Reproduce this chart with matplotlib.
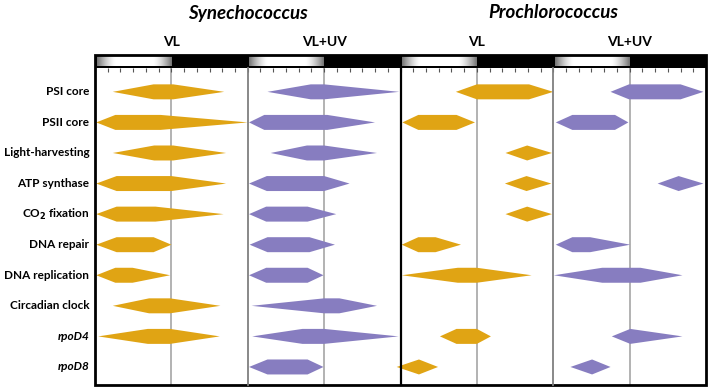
import numpy as np
import matplotlib.pyplot as plt
from matplotlib.patches import Polygon, Rectangle

plt.rcParams['font.family'] = ['Lato', 'DejaVu Sans']

# Row labels (top to bottom)
rows = ['PSI core', 'PSII core', 'Light-harvesting', 'ATP synthase',
        'CO$_\\mathbf{2}$ fixation', 'DNA repair', 'DNA replication',
        'Circadian clock', 'rpoD4', 'rpoD8']
italic_rows = ['rpoD4', 'rpoD8']

# Each shape: (start, plateau start, plateau end, end) in hours of the day; None = no shape
syn_vl = [
    (2.8, 9.2, 12.3, 20.3),
    (0.2, 3.2, 10.3, 24.0),
    (2.8, 9.3, 12.3, 20.6),
    (0.2, 3.4, 12.0, 20.6),
    (0.2, 3.4, 9.5, 20.2),
    (0.2, 3.4, 9.2, 12.0),
    (0.2, 3.2, 5.9, 11.8),
    (2.8, 8.5, 11.8, 19.7),
    (0.5, 8.3, 11.8, 19.6),
    None,
]
syn_uv = [
    (3.1, 9.9, 12.0, 23.8),
    (0.2, 2.6, 12.5, 20.0),
    (3.6, 9.3, 12.0, 20.3),
    (0.2, 3.0, 12.0, 16.0),
    (0.2, 2.9, 9.4, 13.9),
    (0.3, 3.1, 9.7, 13.7),
    (0.2, 2.9, 9.4, 11.9),
    (0.6, 12.0, 14.4, 20.3),
    (0.7, 8.6, 12.0, 23.7),
    (0.2, 3.1, 9.4, 11.9),
]
pro_vl = [
    (8.7, 12.0, 20.2, 24.0),
    (0.3, 2.8, 8.8, 11.7),
    (16.5, 19.9, 19.9, 23.8),
    (16.4, 19.8, 19.8, 23.7),
    (16.5, 19.9, 19.9, 23.8),
    (0.2, 2.8, 5.5, 9.5),
    (0.2, 9.0, 12.0, 20.6),
    None,
    (6.2, 8.8, 12.0, 14.2),
    (-0.6, 2.9, 2.9, 5.9),
]
pro_uv = [
    (9.0, 11.9, 20.0, 23.6),
    (0.4, 3.0, 9.7, 11.8),
    None,
    (16.4, 19.7, 19.7, 23.6),
    None,
    (0.4, 3.0, 5.8, 12.1),
    (0.1, 7.7, 13.7, 20.3),
    None,
    (9.2, 12.1, 12.1, 20.3),
    (2.7, 6.1, 6.1, 9.0),
]

panels = [syn_vl, syn_uv, pro_vl, pro_uv]
panel_titles = ['VL', 'VL+UV', 'VL', 'VL+UV']
species = ['Synechococcus', 'Prochlorococcus']
orange = '#E0A414'
purple = '#877DC0'
colors = [orange, purple, orange, purple]

W, H = 709, 389
fig = plt.figure(figsize=(W / 100, H / 100), dpi=100)

x0_px, x1_px = 95, 706
top_px, bar_bot_px, bot_px = 55, 68, 385
pw = (x1_px - x0_px) / 4
half_h = 0.245

# gradient for the light period
g = np.linspace(0, 1, 200)
grad = 1 - 0.55 * (np.clip(1 - g / 0.25, 0, 1) ** 1.5 + np.clip((g - 0.75) / 0.25, 0, 1) ** 1.5)

axes = []
for i, data in enumerate(panels):
    left = (x0_px + i * pw) / W
    ax = fig.add_axes([left, 1 - bot_px / H, pw / W, (bot_px - bar_bot_px) / H])
    ax.set_xlim(0, 24)
    ax.set_ylim(len(rows) - 1 + 0.59, -0.78)
    for j, s in enumerate(data):
        if s is None:
            continue
        a, b, c, d = s
        poly = Polygon([(a, j), (b, j - half_h), (c, j - half_h), (d, j),
                        (c, j + half_h), (b, j + half_h)],
                       closed=True, facecolor=colors[i], edgecolor='none',
                       zorder=3, clip_on=False)
        ax.add_patch(poly)
    ax.axvline(12, color='#a6a6a6', lw=1.2, zorder=1)
    ax.set_xticks(np.arange(0, 25, 2))
    ax.tick_params(axis='x', top=True, bottom=False, labeltop=False, labelbottom=False,
                   direction='in', length=3, width=0.8, color='#555555')
    ax.set_yticks([])
    for sp in ax.spines.values():
        sp.set_visible(False)
    axes.append(ax)

    # light/dark bar
    bax = fig.add_axes([left, 1 - bar_bot_px / H, pw / W, (bar_bot_px - top_px) / H])
    bax.set_xlim(0, 24)
    bax.set_ylim(0, 1)
    bax.imshow(grad[None, :], cmap='gray', vmin=0, vmax=1, aspect='auto',
               extent=(0.25, 12, 0.12, 0.88), zorder=2)
    bax.add_patch(Rectangle((0, 0), 24, 1, facecolor='black', zorder=1))
    bax.axis('off')

    fig.text(left + pw / 2 / W, 1 - 42 / H, panel_titles[i], ha='center', va='center',
             fontsize=10, fontweight='bold')

# panel separators
for i in range(1, 4):
    xf = (x0_px + i * pw) / W
    col, lw = ('black', 1.6) if i == 2 else ('#7f7f7f', 1.3)
    fig.add_artist(plt.Line2D([xf, xf], [1 - bot_px / H, 1 - bar_bot_px / H],
                              color=col, lw=lw))

# outer frame
fig.add_artist(Rectangle((x0_px / W, 1 - bot_px / H), (x1_px - x0_px) / W,
                         (bot_px - top_px) / H, fill=False, edgecolor='black',
                         lw=2, transform=fig.transFigure))

# species titles
for k, name in enumerate(species):
    xc = (x0_px + (2 * k + 1) * pw) / W
    fig.text(xc, 1 - 13 / H, name, ha='center', va='center', fontsize=13.5,
             fontweight='bold', fontstyle='italic')

# row labels
for j, lab in enumerate(rows):
    axes[0].text(-0.9, j, lab, ha='right', va='center', fontsize=8.5,
                 fontweight='bold', fontstyle='italic' if lab in italic_rows else 'normal')

fig.savefig('out.png', dpi=100)
